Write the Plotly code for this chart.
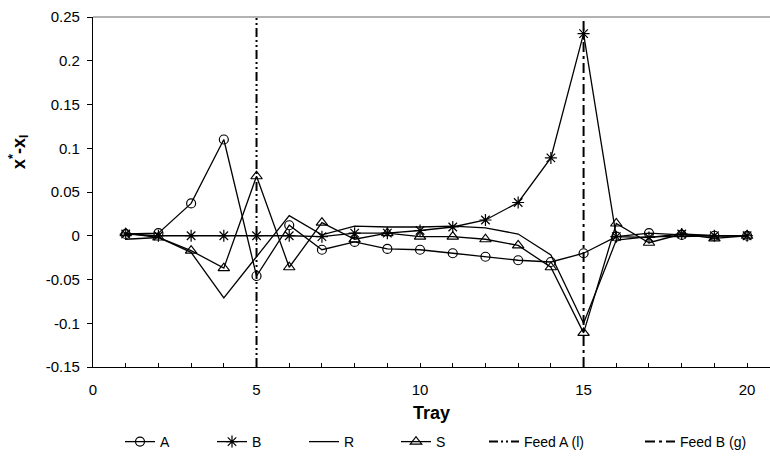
import plotly.graph_objects as go

trays = list(range(1, 21))
A = [0.002, 0.003, 0.037, 0.110, -0.046, 0.012, -0.016, -0.007, -0.015, -0.016,
     -0.020, -0.024, -0.028, -0.030, -0.020, -0.001, 0.003, 0.001, 0.000, 0.000]
B = [0.002, 0.000, 0.000, 0.000, 0.000, 0.000, -0.001, 0.003, 0.003, 0.006,
     0.010, 0.018, 0.038, 0.089, 0.231, -0.001, -0.002, 0.002, 0.000, 0.000]
R = [-0.004, -0.002, -0.019, -0.071, -0.024, 0.023, 0.001, 0.011, 0.010, 0.010,
     0.011, 0.009, 0.002, -0.022, -0.100, -0.005, -0.001, -0.001, 0.000, 0.000]
S = [0.003, -0.002, -0.017, -0.037, 0.068, -0.036, 0.015, -0.004, 0.003, -0.001,
     -0.001, -0.004, -0.011, -0.036, -0.111, 0.014, -0.008, 0.002, -0.003, 0.000]

feed_a_x = [5, 5]
feed_b_x = [15, 15]
feed_y = [-0.15, 0.25]

y_tickvals = [0.25, 0.2, 0.15, 0.1, 0.05, 0, -0.05, -0.1, -0.15]
y_ticktext = ["0.25", "0.2", "0.15", "0.1", "0.05", "0", "-0.05", "-0.1", "-0.15"]
x_tickvals = [0, 5, 10, 15, 20]
x_ticktext = ["0", "5", "10", "15", "20"]

FONT = "Liberation Sans, Arial, sans-serif"
LW = 1.3

fig = go.Figure()
fig.add_trace(go.Scatter(x=trays, y=A, name="A", mode="lines+markers", legend="legend",
                         line=dict(color="black", width=LW),
                         marker=dict(symbol="circle-open", size=9, color="black", line=dict(width=1.2))))
fig.add_trace(go.Scatter(x=trays, y=B, name="B", mode="lines+markers", legend="legend",
                         line=dict(color="black", width=LW),
                         marker=dict(symbol="asterisk-open", size=10, color="black", line=dict(width=1.2))))
fig.add_trace(go.Scatter(x=trays, y=R, name="R", mode="lines", legend="legend",
                         line=dict(color="black", width=LW)))
fig.add_trace(go.Scatter(x=trays, y=S, name="S", mode="lines+markers", legend="legend",
                         line=dict(color="black", width=LW),
                         marker=dict(symbol="triangle-up-open", size=10, color="black", line=dict(width=1.2))))
fig.add_trace(go.Scatter(x=feed_a_x, y=feed_y, name="Feed A (l)", mode="lines", legend="legend2",
                         line=dict(color="black", width=2, dash="9px,3px,2px,3px,2px,3px")))
fig.add_trace(go.Scatter(x=feed_b_x, y=feed_y, name="Feed B (g)", mode="lines", legend="legend2",
                         line=dict(color="black", width=2, dash="10px,4px,3px,4px")))

legend_common = dict(orientation="h", xref="container", yref="container",
                     xanchor="left", y=0.037, yanchor="middle",
                     font=dict(size=14), itemwidth=30, bgcolor="rgba(0,0,0,0)")

fig.update_layout(
    width=770, height=459,
    margin=dict(l=93, r=0, t=17, b=92),
    paper_bgcolor="white", plot_bgcolor="white",
    font=dict(family=FONT, size=15, color="black"),
    showlegend=True,
    legend=dict(legend_common, x=120 / 770, entrywidth=47),
    legend2=dict(legend_common, x=484 / 770, entrywidth=111),
    xaxis=dict(range=[0, 20.7], showgrid=False, zeroline=False,
               showline=True, linecolor="black", linewidth=1.3,
               tickmode="array", tickvals=x_tickvals, ticktext=x_ticktext,
               ticks="inside", ticklen=4, tickcolor="black",
               ticklabelstandoff=9, tickfont=dict(size=15),
               minor=dict(dtick=1, tick0=0, ticks="inside", ticklen=4, tickcolor="black"),
               title=dict(text="<b>Tray</b>", font=dict(size=18), standoff=9)),
    yaxis=dict(range=[-0.15, 0.25], showgrid=False, zeroline=False,
               showline=True, linecolor="black", linewidth=1.3,
               tickmode="array", tickvals=y_tickvals, ticktext=y_ticktext,
               ticks="outside", ticklen=5, tickcolor="black",
               ticklabelstandoff=4, tickfont=dict(size=15)),
    shapes=[dict(type="line", xref="paper", yref="paper", x0=0, x1=1, y0=1, y1=1,
                 line=dict(color="#999999", width=1.3))],
    annotations=[dict(text="<b>x<sup>*</sup>-x<sub>l</sub></b>", xref="paper", yref="paper",
                      x=-75 / 677, y=1 - (152 - 17) / 350, xanchor="center", yanchor="middle",
                      textangle=-90, showarrow=False, font=dict(size=18))],
)

fig.write_html("out.html", config={"displayModeBar": False},
               post_script="document.body.style.margin='0px';")
